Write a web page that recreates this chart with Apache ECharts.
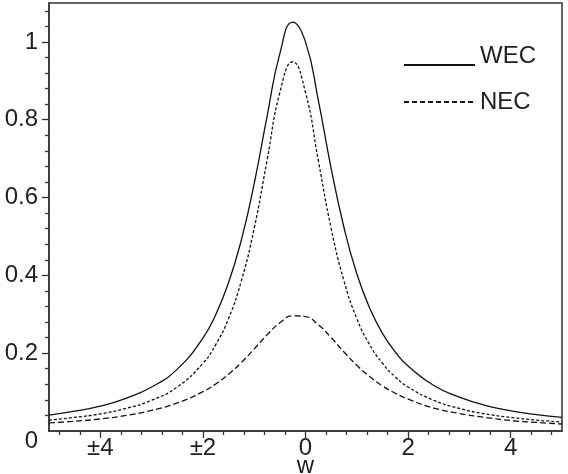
<!DOCTYPE html>
<html>
<head>
<meta charset="utf-8">
<script src="https://cdn.jsdelivr.net/npm/echarts@6/dist/echarts.min.js"></script>
<style>
html,body{margin:0;padding:0;background:#fff;}
#c{width:568px;height:474px;}
</style>
</head>
<body>
<div id="c"></div>
<script>
// x positions (w)
const wValues = [-5, -4.5, -4, -3.5, -3, -2.5, -2, -1.75, -1.5, -1.25, -1, -0.75, -0.5, -0.25, 0, 0.25, 0.5, 0.75, 1, 1.25, 1.5, 1.75, 2, 2.5, 3, 3.5, 4, 4.5, 5];
// WEC (solid)
const wecValues = [0.041, 0.051, 0.064, 0.084, 0.113, 0.159, 0.239, 0.299, 0.381, 0.491, 0.636, 0.808, 0.970, 1.051, 1.000, 0.850, 0.675, 0.523, 0.404, 0.316, 0.251, 0.203, 0.167, 0.117, 0.087, 0.066, 0.052, 0.042, 0.035];
// NEC (dotted)
const necValues = [0.028, 0.035, 0.044, 0.058, 0.079, 0.113, 0.174, 0.222, 0.289, 0.386, 0.521, 0.695, 0.870, 0.949, 0.870, 0.695, 0.521, 0.386, 0.289, 0.222, 0.174, 0.139, 0.113, 0.079, 0.058, 0.044, 0.035, 0.028, 0.023];
// third curve (dashed)
const thirdValues = [0.021, 0.025, 0.031, 0.040, 0.053, 0.072, 0.101, 0.121, 0.146, 0.176, 0.211, 0.247, 0.278, 0.296, 0.294, 0.273, 0.240, 0.203, 0.169, 0.140, 0.116, 0.097, 0.082, 0.059, 0.045, 0.035, 0.027, 0.022, 0.018];

const xMajorTicks = [-4, -2, 0, 2, 4];
const xTickLabels = ['±4', '±2', '0', '2', '4'];
const xMinorTicks = [-4.8, -4.4, -3.6, -3.2, -2.8, -2.4, -1.6, -1.2, -0.8, -0.4, 0.4, 0.8, 1.2, 1.6, 2.4, 2.8, 3.2, 3.6, 4.4, 4.8];
const yMajorTicks = [0, 0.2, 0.4, 0.6, 0.8, 1];
const yTickLabels = ['0', '0.2', '0.4', '0.6', '0.8', '1'];
const yMinorTicks = [0.04, 0.08, 0.12, 0.16, 0.24, 0.28, 0.32, 0.36, 0.44, 0.48, 0.52, 0.56, 0.64, 0.68, 0.72, 0.76, 0.84, 0.88, 0.92, 0.96, 1.04, 1.08];
const seriesNames = ['WEC', 'NEC', ''];
const xName = 'w';

const pairs = vals => wValues.map((w, i) => [w, vals[i]]);
const FONT = 'Liberation Sans, Arial, sans-serif';
const FS = 24;
const AX = '#333';
const TXT = '#222';
const chart = echarts.init(document.getElementById('c'), null, {renderer: 'canvas'});

const legendBase = {
  orient: 'vertical', left: 398, itemWidth: 71, itemHeight: 14,
  itemStyle: {color: 'transparent', borderColor: 'transparent', borderWidth: 0},
  textStyle: {fontSize: FS, fontFamily: FONT, color: TXT}
};

chart.setOption({
  animation: false,
  backgroundColor: '#fff',
  grid: {left: 49, right: 6, top: 3, bottom: 43, show: true, borderColor: AX, borderWidth: 1.5,
    backgroundColor: 'transparent', containLabel: false, outerBoundsMode: 'none'},
  legend: [
    Object.assign({}, legendBase, {
      top: 39,
      data: [{name: seriesNames[0]}],
      formatter: n => '{u|' + n + '}',
      textStyle: {fontSize: FS, fontFamily: FONT, color: TXT,
        rich: {u: {fontSize: FS, fontFamily: FONT, color: TXT, padding: [0, 0, 18, 0]}}}
    }),
    Object.assign({}, legendBase, {
      top: 85,
      data: [{name: seriesNames[1], lineStyle: {type: [5, 3]}}]
    })
  ],
  xAxis: [
    {
      type: 'value', min: -5, max: 5, position: 'bottom',
      name: xName, nameLocation: 'middle', nameGap: 23, nameMoveOverlap: false,
      nameTextStyle: {fontSize: FS, fontFamily: FONT, color: TXT},
      axisLine: {show: true, onZero: false, lineStyle: {color: AX, width: 1.5}},
      axisTick: {show: true, customValues: xMajorTicks, length: 7, lineStyle: {color: AX, width: 1.3}},
      axisLabel: {show: true, customValues: xMajorTicks, margin: 5, fontSize: FS, fontFamily: FONT, color: TXT,
        formatter: v => xTickLabels[xMajorTicks.indexOf(v)] ?? ''},
      splitLine: {show: false}
    },
    {
      type: 'value', min: -5, max: 5, position: 'bottom', offset: 0,
      axisLine: {show: false, onZero: false},
      axisTick: {show: true, customValues: xMinorTicks, length: 4, lineStyle: {color: AX, width: 1.3}},
      axisLabel: {show: false},
      splitLine: {show: false}
    }
  ],
  yAxis: [
    {
      type: 'value', min: 0, max: 1.1, position: 'left',
      axisLine: {show: true, onZero: false, lineStyle: {color: AX, width: 1.5}},
      axisTick: {show: true, customValues: yMajorTicks.slice(1), length: 7, lineStyle: {color: AX, width: 1.3}},
      axisLabel: {show: true, customValues: yMajorTicks, margin: 11, fontSize: FS, fontFamily: FONT, color: TXT,
        formatter: v => {
          const s = yTickLabels[yMajorTicks.indexOf(v)] ?? '';
          return v === 0 ? '{z|' + s + '}' : s;
        },
        rich: {z: {fontSize: FS, fontFamily: FONT, color: TXT, padding: [20, 0, 0, 0]}}
      },
      splitLine: {show: false}
    },
    {
      type: 'value', min: 0, max: 1.1, position: 'left', offset: 0,
      axisLine: {show: false, onZero: false},
      axisTick: {show: true, customValues: yMinorTicks, length: 4, lineStyle: {color: AX, width: 1.3}},
      axisLabel: {show: false},
      splitLine: {show: false}
    }
  ],
  series: [
    {name: seriesNames[0], type: 'line', smooth: true, symbol: 'none', showSymbol: false, data: pairs(wecValues),
      lineStyle: {color: '#111', width: 1.3, type: 'solid'}, itemStyle: {color: '#111'}},
    {name: seriesNames[1], type: 'line', smooth: true, symbol: 'none', showSymbol: false, data: pairs(necValues),
      lineStyle: {color: '#111', width: 1.3, type: [3, 2]}, itemStyle: {color: '#111'}},
    {name: 'third', type: 'line', smooth: true, symbol: 'none', showSymbol: false, data: pairs(thirdValues),
      lineStyle: {color: '#111', width: 1.3, type: [6, 3]}, itemStyle: {color: '#111'}}
  ]
});
</script>
</body>
</html>
